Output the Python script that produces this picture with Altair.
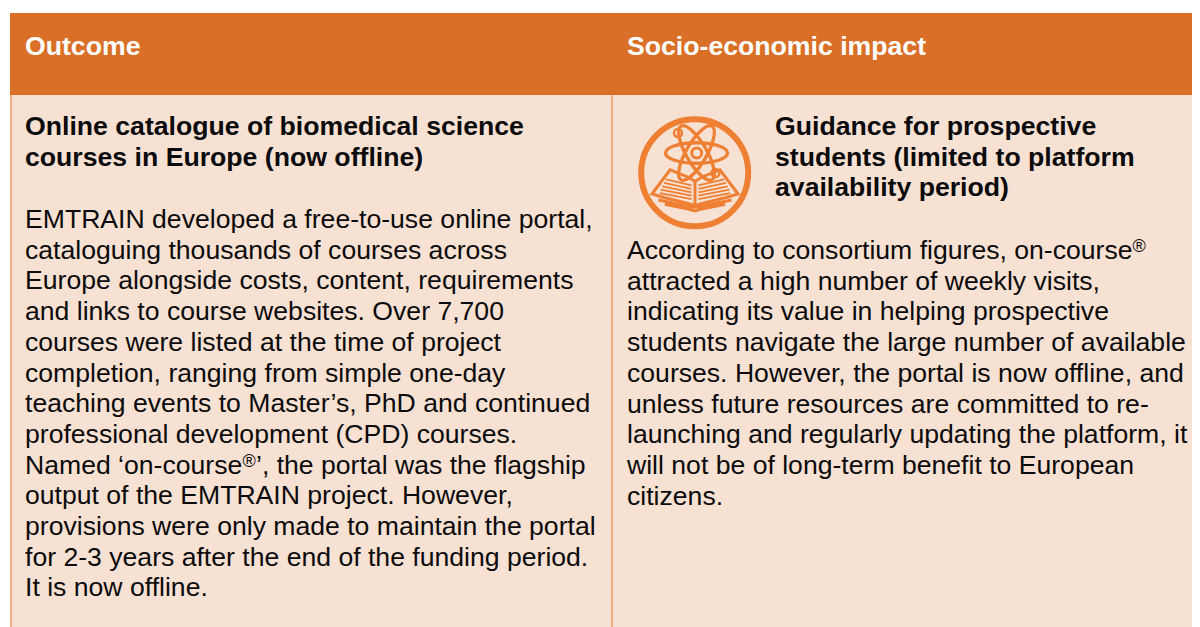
import altair as alt
import pandas as pd

# ---- table content -------------------------------------------------
headers = ["Outcome", "Socio-economic impact"]
left_title = ["Online catalogue of biomedical science", "courses in Europe (now offline)"]
left_body = [
    "EMTRAIN developed a free-to-use online portal,",
    "cataloguing thousands of courses across",
    "Europe alongside costs, content, requirements",
    "and links to course websites. Over 7,700",
    "courses were listed at the time of project",
    "completion, ranging from simple one-day",
    "teaching events to Master’s, PhD and continued",
    "professional development (CPD) courses.",
    "Named ‘on-course",
    "output of the EMTRAIN project. However,",
    "provisions were only made to maintain the portal",
    "for 2-3 years after the end of the funding period.",
    "It is now offline.",
]
right_title = ["Guidance for prospective", "students (limited to platform", "availability period)"]
right_body = [
    "According to consortium figures, on-course",
    "attracted a high number of weekly visits,",
    "indicating its value in helping prospective",
    "students navigate the large number of available",
    "courses. However, the portal is now offline, and",
    "unless future resources are committed to re-",
    "launching and regularly updating the platform, it",
    "will not be of long-term benefit to European",
    "citizens.",
]

W, H = 1184, 619
OX, OY = 8, 8
X = alt.X("x:Q", scale=alt.Scale(domain=[OX, OX + W], range=[0, W], nice=False, zero=False), axis=None)
Y = alt.Y("y:Q", scale=alt.Scale(domain=[OY, OY + H], range=[0, H], nice=False, zero=False), axis=None)
X2 = alt.X2("x2:Q")
Y2 = alt.Y2("y2:Q")

def rect(rows, color):
    return alt.Chart(pd.DataFrame(rows)).mark_rect(color=color, opacity=1).encode(x=X, x2=X2, y=Y, y2=Y2)

bg = rect([{"x": 10, "x2": 1192, "y": 95, "y2": 627}], "#F7E1D3")
head = rect([{"x": 10, "x2": 1192, "y": 13, "y2": 95}], "#DA6F27")
rules = rect([{"x": 10, "x2": 12, "y": 95, "y2": 627},
              {"x": 611, "x2": 613, "y": 95, "y2": 627}], "#F4B083")

FONT = "Liberation Sans"
def text(rows, size, weight, color):
    return alt.Chart(pd.DataFrame(rows)).mark_text(
        font=FONT, fontSize=size, fontWeight=weight, color=color, align="left", baseline="alphabetic"
    ).encode(x=X, y=Y, text="t:N")

def lines(strs, x, y0, lead):
    return [{"x": x, "y": y0 + i * lead, "t": s} for i, s in enumerate(strs)]

BLACK = "#0b0b0b"
SIZE = 26.6
BOLD = 26.65
LEAD = 30.7
layers = [bg, head, rules,
    text([{"x": 25, "y": 55, "t": headers[0]}, {"x": 627, "y": 55, "t": headers[1]}], BOLD, "bold", "#ffffff"),
    text(lines(left_title, 25, 135, LEAD), BOLD, "bold", BLACK),
    text(lines(right_title, 775, 135, LEAD), BOLD, "bold", BLACK),
    text(lines(left_body, 25, 228, LEAD), SIZE, "normal", BLACK),
    text(lines(right_body, 627, 259, LEAD), SIZE, "normal", BLACK),
    text([{"x": 242.5, "y": 467, "t": "®"}, {"x": 1132.5, "y": 252, "t": "®"}], 18, "normal", BLACK),
    text([{"x": 256, "y": 473.6, "t": "’, the portal was the flagship"}], SIZE, "normal", BLACK),
]

# ---- icon -----------------------------------------------------------
ORANGE = "#EE7F33"
CIRCLE = "M-1,0 A1,1 0 1 1 1,0 A1,1 0 1 1 -1,0 Z"
ELLIPSE = "M-1,0 A1,0.33 0 1 1 1,0 A1,0.33 0 1 1 -1,0 Z"
COVER = ("M-1,0 L-0.58,-0.56 L-0.15,-0.39 L0,-0.29 L0.15,-0.39 L0.58,-0.56 L1,0 "
         "L0.72,0.08 L0.08,0.24 L0,0.3 L-0.08,0.24 L-0.72,0.08 Z M0,-0.29 L0,0.25")
PAGES = ("M-0.68,-0.34 L-0.08,-0.2 M-0.72,-0.26 L-0.08,-0.12 M-0.76,-0.18 L-0.08,-0.04 "
         "M-0.8,-0.1 L-0.08,0.04 M-0.82,-0.02 L-0.08,0.12 "
         "M0.68,-0.34 L0.08,-0.2 M0.72,-0.26 L0.08,-0.12 M0.76,-0.18 L0.08,-0.04 "
         "M0.8,-0.1 L0.08,0.04 M0.82,-0.02 L0.08,0.12")
BASE = ("M-0.85,0.14 L-0.05,0.3 L0.05,0.3 L0.85,0.14 "
        "M-0.7,0.24 L-0.1,0.36 Q0,0.42 0.1,0.36 L0.7,0.24")

def shape(path, x, y, r, sw, angle=0):
    df = pd.DataFrame([{"x": x, "y": y, "s": (2 * r) ** 2, "a": angle}])
    return alt.Chart(df).mark_point(shape=path, stroke=ORANGE, strokeWidth=sw, filled=False, opacity=1).encode(
        x=X, y=Y,
        size=alt.Size("s:Q", scale=None, legend=None),
        angle=alt.Angle("a:Q", scale=alt.Scale(domain=[0, 360], range=[0, 360]), legend=None),
    )

layers += [
    shape(CIRCLE, 694.7, 172.7, 53.5, 6),
    shape(ELLIPSE, 696.5, 153, 31, 3.3),
    shape(ELLIPSE, 696.5, 153, 31, 3.3, 60),
    shape(ELLIPSE, 696.5, 153, 31, 3.3, 120),
    shape(CIRCLE, 696.7, 153, 5, 3),
    shape(CIRCLE, 678, 133, 4, 2.5),
    shape(CIRCLE, 715.5, 173, 4, 2.5),
    shape(COVER, 695, 194, 43, 3),
    shape(PAGES, 695, 194, 43, 1.8),
    shape(BASE, 695, 194, 43, 3),
]

chart = alt.layer(*layers).properties(
    width=W, height=H, padding=0, autosize=alt.AutoSizeParams(type="none"),
    background="#ffffff",
).configure_view(stroke=None)

chart.save("out.html", embed_options={"renderer": "svg", "actions": False})
